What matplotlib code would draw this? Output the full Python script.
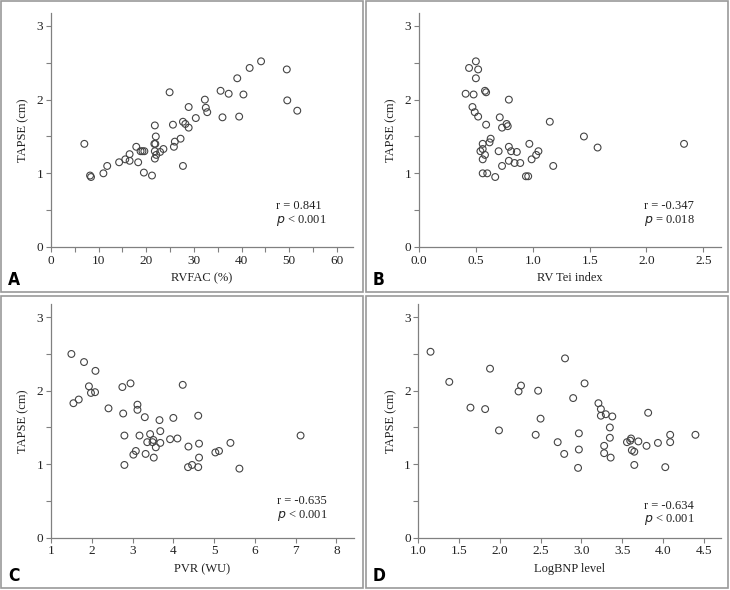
import matplotlib
matplotlib.use("Agg")
import matplotlib.pyplot as plt
from matplotlib.patches import Rectangle
from matplotlib.ticker import MultipleLocator

plt.rcParams['font.family'] = ['Liberation Serif', 'DejaVu Serif']

# Panel A: RVFAC (%) vs TAPSE (cm)
rvfac = [7.0, 8.2, 8.4, 11.0, 11.8, 14.3, 15.6, 16.5, 16.5, 17.9, 18.3, 18.8, 19.2, 19.6,
         19.5, 21.2, 21.7, 21.9, 21.8, 22.0, 21.8, 21.8, 22.1, 22.9, 23.6, 24.9, 25.6, 26.0,
         25.8, 27.2, 27.7, 28.2, 28.9, 28.9, 27.7, 30.4, 32.3, 32.5, 32.8, 35.6, 36.0, 37.3,
         39.1, 39.5, 40.4, 41.7, 44.1, 49.5, 49.6, 51.7]
tapse_a = [1.40, 0.97, 0.95, 1.00, 1.10, 1.15, 1.19, 1.17, 1.26, 1.36, 1.15, 1.30, 1.30, 1.30,
           1.01, 0.97, 1.40, 1.40, 1.65, 1.50, 1.30, 1.20, 1.25, 1.29, 1.33, 2.10, 1.66, 1.43,
           1.36, 1.47, 1.70, 1.67, 1.62, 1.90, 1.10, 1.75, 2.00, 1.89, 1.83, 2.12, 1.76, 2.08,
           2.29, 1.77, 2.07, 2.43, 2.52, 2.41, 1.99, 1.85]

# Panel B: RV Tei index vs TAPSE
tei = [0.41, 0.44, 0.50, 0.52, 0.50, 0.48, 0.47, 0.49, 0.52, 0.58, 0.59, 0.59, 0.79, 0.71,
       0.73, 0.77, 0.78, 0.63, 0.62, 0.56, 0.56, 0.54, 0.58, 0.56, 0.56, 0.60, 0.67, 0.70,
       0.79, 0.81, 0.86, 0.79, 0.73, 0.84, 0.89, 0.94, 0.96, 0.97, 0.99, 1.03, 1.05, 1.15,
       1.18, 1.45, 1.57, 2.33]
tapse_b = [2.08, 2.43, 2.52, 2.41, 2.29, 2.07, 1.90, 1.83, 1.77, 2.12, 2.10, 1.66, 2.00, 1.76,
           1.62, 1.67, 1.64, 1.47, 1.42, 1.40, 1.33, 1.30, 1.25, 1.19, 1.00, 1.00, 0.95, 1.30,
           1.36, 1.30, 1.29, 1.17, 1.10, 1.14, 1.14, 0.96, 0.96, 1.40, 1.19, 1.25, 1.30, 1.70,
           1.10, 1.50, 1.35, 1.40]

# Panel C: PVR (WU) vs TAPSE
pvr = [1.50, 1.55, 1.68, 1.81, 1.93, 1.98, 2.08, 2.09, 2.41, 2.75, 2.95, 2.77, 2.80, 2.80,
       3.12, 3.12, 3.17, 3.30, 3.36, 3.43, 3.49, 3.51, 3.57, 3.66, 3.68, 3.68, 3.08, 3.02,
       3.32, 3.52, 3.92, 4.10, 4.00, 4.23, 4.37, 4.36, 4.46, 4.61, 4.63, 4.63, 4.61, 5.03,
       5.12, 5.40, 5.62, 7.12]
tapse_c = [2.50, 1.83, 1.88, 2.39, 2.06, 1.97, 1.98, 2.27, 1.76, 2.05, 2.10, 1.69, 1.39, 0.99,
           1.81, 1.74, 1.39, 1.64, 1.30, 1.41, 1.30, 1.33, 1.23, 1.60, 1.45, 1.29, 1.18, 1.13,
           1.14, 1.09, 1.34, 1.35, 1.63, 2.08, 1.24, 0.96, 0.99, 0.96, 1.09, 1.28, 1.66, 1.16,
           1.18, 1.29, 0.94, 1.39]

# Panel D: LogBNP level vs TAPSE
logbnp = [1.15, 1.38, 1.64, 1.82, 1.88, 1.99, 2.23, 2.26, 2.47, 2.50, 2.44, 2.71, 2.79, 2.80,
          2.90, 3.04, 2.97, 2.97, 2.96, 3.21, 3.24, 3.24, 3.30, 3.38, 3.35, 3.35, 3.28, 3.28,
          3.36, 3.56, 3.60, 3.61, 3.62, 3.65, 3.70, 3.65, 3.80, 3.82, 3.94, 4.03, 4.09, 4.09,
          4.40]
tapse_d = [2.53, 2.12, 1.77, 1.75, 2.30, 1.46, 1.99, 2.07, 2.00, 1.62, 1.40, 1.30, 1.14, 2.44,
           1.90, 2.10, 1.42, 1.20, 0.95, 1.83, 1.75, 1.66, 1.68, 1.65, 1.50, 1.36, 1.25, 1.15,
           1.09, 1.30, 1.32, 1.35, 1.19, 1.17, 1.31, 0.99, 1.25, 1.70, 1.29, 0.96, 1.40, 1.30,
           1.40]

panels = [
    ('A', rvfac, tapse_a, 'RVFAC (%)', (0, 63.4), 10, 5, '%d', 'r = 0.841', '$p$ < 0.001', (0.175, 0.115)),
    ('B', tei, tapse_b, 'RV Tei index', (0, 2.655), 0.5, None, '%.1f', 'r = -0.347', '$p$ = 0.018', (0.175, 0.115)),
    ('C', pvr, tapse_c, 'PVR (WU)', (1, 8.43), 1, None, '%d', 'r = -0.635', '$p$ < 0.001', (0.157, 0.097)),
    ('D', logbnp, tapse_d, 'LogBNP level', (1, 4.71), 0.5, None, '%.1f', 'r = -0.634', '$p$ < 0.001', (0.134, 0.076)),
]

W, H = 730, 590
fig = plt.figure(figsize=(7.3, 5.9), dpi=100)

# axes positions in pixels: left, bottom(from top), right, top(from top)
ax_px = {'A': (51, 247, 353, 12.7), 'B': (419, 247, 721, 12.7),
         'C': (51, 537.7, 354, 304), 'D': (418.3, 537.7, 720.7, 304)}
box_px = {'A': (1, 1, 363, 292), 'B': (366, 1, 728, 292),
          'C': (1, 296, 363, 588), 'D': (366, 296, 728, 588)}

for name, xs, ys, xlabel, xlim, major, minor, fmt, rtxt, ptxt, ty in panels:
    # panel frame
    bx0, by0, bx1, by1 = box_px[name]
    fig.patches.append(Rectangle((bx0 / W, 1 - by1 / H), (bx1 - bx0) / W, (by1 - by0) / H,
                                 transform=fig.transFigure, fill=False,
                                 edgecolor='#9a9a9a', linewidth=1.2))
    fig.text((bx0 + 7) / W, 1 - (by1 - 7) / H, name, fontsize=12.5, fontweight='bold',
             family='DejaVu Sans', fontstretch='condensed', ha='left', va='baseline')

    l, b, r, t = ax_px[name]
    ax = fig.add_axes([l / W, 1 - b / H, (r - l) / W, (b - t) / H])
    ax.scatter(xs, ys, s=24, facecolors='none', edgecolors='#444444', linewidths=0.8,
               clip_on=False, zorder=3)
    ax.set_xlim(*xlim)
    ax.set_ylim(0, 3.18)
    for side in ('top', 'right'):
        ax.spines[side].set_visible(False)
    for side in ('left', 'bottom'):
        ax.spines[side].set_color('#808080')
        ax.spines[side].set_linewidth(0.9)
    ax.xaxis.set_major_locator(MultipleLocator(major))
    if minor:
        ax.xaxis.set_minor_locator(MultipleLocator(minor))
    ax.xaxis.set_major_formatter(matplotlib.ticker.FormatStrFormatter(fmt))
    ax.yaxis.set_major_locator(MultipleLocator(1))
    ax.yaxis.set_minor_locator(MultipleLocator(0.5))
    ax.tick_params(which='both', direction='out', color='#808080', width=0.8,
                   labelsize=9.5, labelcolor='#222222', pad=2, length=3.5)
    ax.set_xlabel(xlabel, fontsize=9, color='#222222', labelpad=4)
    ax.set_ylabel('TAPSE (cm)', fontsize=9, color='#222222', labelpad=5)
    ax.text(0.745, ty[0], rtxt, transform=ax.transAxes, fontsize=9, color='#222222',
            ha='left', va='center')
    ax.text(0.745, ty[1], ptxt, transform=ax.transAxes, fontsize=9, color='#222222',
            ha='left', va='center')

fig.savefig('out.png', dpi=100)
